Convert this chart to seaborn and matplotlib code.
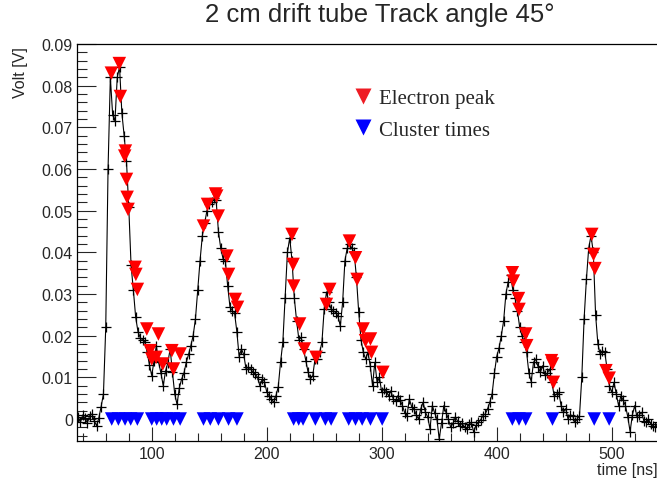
import numpy as np
import seaborn as sns
import matplotlib.pyplot as plt
from matplotlib.lines import Line2D
from matplotlib.ticker import MultipleLocator

sns.set_style("white")
plt.rcParams['font.family'] = ['Liberation Sans', 'DejaVu Sans']

# scope trace, one sample every 2 ns starting at 36 ns
t_start = 36
t_step = 2
volts = [
    0.0005, -0.0008, 0.0010, 0.0002, -0.0010, 0.0008, 0.0012, -0.0004, -0.0016, 0.0003,   # 36
    0.0030, 0.0060, 0.0220, 0.0600, 0.0820, 0.0730, 0.0715, 0.0820, 0.0845, 0.0735,       # 56
    0.0680, 0.0620, 0.0510, 0.0370, 0.0310, 0.0245, 0.0210, 0.0195, 0.0190, 0.0185,       # 76
    0.0160, 0.0130, 0.0104, 0.0140, 0.0176, 0.0136, 0.0110, 0.0080, 0.0115, 0.0135,       # 96
    0.0168, 0.0112, 0.0060, 0.0035, 0.0075, 0.0096, 0.0110, 0.0136, 0.0155, 0.0176,       # 116
    0.0200, 0.0240, 0.0310, 0.0380, 0.0440, 0.0470, 0.0500, 0.0515, 0.0520, 0.0530,       # 136
    0.0525, 0.0450, 0.0410, 0.0385, 0.0380, 0.0320, 0.0270, 0.0260, 0.0255, 0.0210,       # 156
    0.0150, 0.0168, 0.0155, 0.0120, 0.0125, 0.0120, 0.0113, 0.0108, 0.0100, 0.0080,       # 176
    0.0095, 0.0090, 0.0065, 0.0056, 0.0048, 0.0040, 0.0056, 0.0077, 0.0136, 0.0184,       # 196
    0.0290, 0.0400, 0.0435, 0.0380, 0.0290, 0.0235, 0.0190, 0.0196, 0.0168, 0.0140,       # 216
    0.0112, 0.0096, 0.0104, 0.0144, 0.0145, 0.0160, 0.0184, 0.0265, 0.0305, 0.0280,       # 236
    0.0264, 0.0260, 0.0255, 0.0247, 0.0223, 0.0280, 0.0380, 0.0410, 0.0420, 0.0410,       # 256
    0.0400, 0.0340, 0.0256, 0.0190, 0.0160, 0.0144, 0.0160, 0.0128, 0.0080, 0.0136,       # 276
    0.0088, 0.0100, 0.0064, 0.0072, 0.0065, 0.0056, 0.0068, 0.0048, 0.0044, 0.0056,       # 296
    0.0045, 0.0032, 0.0015, 0.0008, 0.0048, 0.0030, 0.0024, 0.0010, 0.0000, 0.0025,       # 316
    0.0040, 0.0016, 0.0005, -0.0024, 0.0032, 0.0015, 0.0000, -0.0048, -0.0010, 0.0032,    # 336
    0.0015, 0.0000, -0.0020, -0.0010, 0.0005, -0.0005, -0.0016, -0.0010, -0.0020, -0.0024,  # 356
    -0.0012, -0.0008, -0.0032, -0.0015, -0.0008, -0.0002, 0.0008, 0.0012, 0.0024, 0.0040,   # 376
    0.0060, 0.0110, 0.0150, 0.0170, 0.0200, 0.0235, 0.0300, 0.0330, 0.0345, 0.0310,       # 396
    0.0290, 0.0260, 0.0220, 0.0200, 0.0185, 0.0160, 0.0110, 0.0090, 0.0136, 0.0144,       # 416
    0.0125, 0.0112, 0.0128, 0.0105, 0.0110, 0.0120, 0.0088, 0.0055, 0.0060, 0.0064,       # 436
    0.0032, 0.0016, 0.0025, 0.0000, 0.0010, 0.0008, -0.0008, 0.0000, 0.0008, 0.0100,      # 456
    0.0240, 0.0335, 0.0410, 0.0440, 0.0400, 0.0250, 0.0180, 0.0155, 0.0164, 0.0160,       # 476
    0.0120, 0.0080, 0.0064, 0.0088, 0.0060, 0.0032, 0.0056, 0.0045, 0.0032, 0.0005,       # 496
    -0.0030, 0.0010, 0.0032, 0.0005, 0.0010, 0.0016, -0.0005, -0.0008, 0.0000, -0.0012,   # 516
    -0.0016, -0.0020, -0.0008,                                                            # 536
]
time_ns = t_start + t_step * np.arange(len(volts))

# electron peaks found by the algorithm
peak_t = [64.9, 71.8, 72.7, 76.5, 77.1, 78.0, 78.6, 79.4, 85.5, 86.2, 87.5,
          95.7, 98.6, 100.0, 103.8, 105.8, 109.6, 117.5, 118.9, 124.7,
          145.0, 148.5, 155.5, 156.5, 157.8, 165.4, 166.8, 172.6, 174.6,
          222.0, 222.9, 223.4, 228.6, 232.7, 242.9, 251.9, 254.8,
          271.9, 277.2, 278.6, 283.8, 285.9, 290.2, 291.1, 301.0,
          413.6, 414.5, 418.9, 419.4, 425.2, 426.1, 447.6, 448.5, 449.3,
          482.7, 484.2, 485.4, 495.0, 497.8]
peak_v = [0.0830, 0.0853, 0.0774, 0.0631, 0.0643, 0.0575, 0.0532, 0.0503, 0.0364, 0.0347, 0.0311,
          0.0216, 0.0164, 0.0144, 0.0148, 0.0204, 0.0132, 0.0164, 0.0120, 0.0156,
          0.0463, 0.0515, 0.0540, 0.0535, 0.0487, 0.0391, 0.0347, 0.0287, 0.0268,
          0.0443, 0.0371, 0.0319, 0.0228, 0.0168, 0.0148, 0.0275, 0.0311,
          0.0427, 0.0387, 0.0335, 0.0216, 0.0188, 0.0192, 0.0160, 0.0112,
          0.0351, 0.0331, 0.0289, 0.0263, 0.0204, 0.0176, 0.0140, 0.0132, 0.0088,
          0.0443, 0.0395, 0.0361, 0.0116, 0.0098]

# cluster times, drawn on the zero line
cluster_t = [65.2, 71.0, 76.8, 81.7, 87.5,
             100.0, 104.3, 108.7, 113.0, 118.9, 124.7,
             145.0, 150.9, 158.0, 166.8, 174.1,
             223.4, 227.8, 231.6, 242.3, 251.0, 256.0,
             271.3, 277.2, 283.0, 290.2, 300.4,
             413.6, 419.4, 425.2, 448.5, 484.8, 497.8]
cluster_v = [0.0] * len(cluster_t)

fig = plt.figure(figsize=(6.57, 4.85), dpi=100)
ax = fig.add_axes([77 / 657, 0.0893, 1 - 77 / 657, 0.8179])

sns.lineplot(x=time_ns, y=volts, ax=ax, color="black", lw=0.8, errorbar=None,
             marker="+", markersize=7, markeredgecolor="black", markeredgewidth=0.9)
sns.scatterplot(x=peak_t, y=peak_v, ax=ax, marker="v", s=95, color="#ff0000",
                edgecolor="none", linewidth=0, zorder=3)
sns.scatterplot(x=cluster_t, y=cluster_v, ax=ax, marker="v", s=95, color="#0000ff",
                edgecolor="none", linewidth=0, zorder=3)

ax.set_xlim(35, 539.4)
ax.set_ylim(-0.0052, 0.09)
ax.xaxis.set_major_locator(MultipleLocator(100))
ax.xaxis.set_minor_locator(MultipleLocator(20))
ax.yaxis.set_major_locator(MultipleLocator(0.01))
ax.yaxis.set_minor_locator(MultipleLocator(0.002))
ax.yaxis.set_major_formatter(plt.FuncFormatter(lambda v, p: "0" if abs(v) < 1e-9 else f"{v:.2f}"))

ax.tick_params(axis="y", which="major", direction="in", length=13.5, width=0.8, pad=3, labelsize=11.5, left=True)
ax.tick_params(axis="y", which="minor", direction="in", length=7, width=0.8, left=True)
ax.tick_params(axis="x", which="major", direction="in", length=10, width=0.8, pad=4.0, labelsize=11.5, bottom=True)
ax.tick_params(axis="x", which="minor", direction="in", length=5.5, width=0.8, bottom=True)
for side in ["left", "bottom", "top"]:
    ax.spines[side].set_color("black")
    ax.spines[side].set_linewidth(0.9)
ax.spines["right"].set_visible(False)
ax.set_xlabel("")
ax.set_ylabel("")

handles = [Line2D([], [], marker="v", ls="none", color="#ee1c24", markersize=11, mec="none"),
           Line2D([], [], marker="v", ls="none", color="#0000ff", markersize=11, mec="none")]
ax.legend(handles, ["Electron peak", "Cluster times"], frameon=False, loc="upper left",
          bbox_to_anchor=(0.475, 0.888), borderpad=0, borderaxespad=0, handlelength=1.0,
          handletextpad=0.25, labelspacing=0.58, prop={"family": "Liberation Serif", "size": 15})

fig.text(380 / 657, 1 - 22 / 485, "2 cm drift tube Track angle 45°", ha="center", va="baseline", fontsize=18.5)
fig.text(20 / 657, 1 - 47 / 485, "Volt [V]", rotation=90, ha="center", va="top", fontsize=11.5)
fig.text(597 / 657, 1 - 475 / 485, "time [ns]", ha="left", va="baseline", fontsize=11.5)

fig.savefig("out.png", dpi=100)
